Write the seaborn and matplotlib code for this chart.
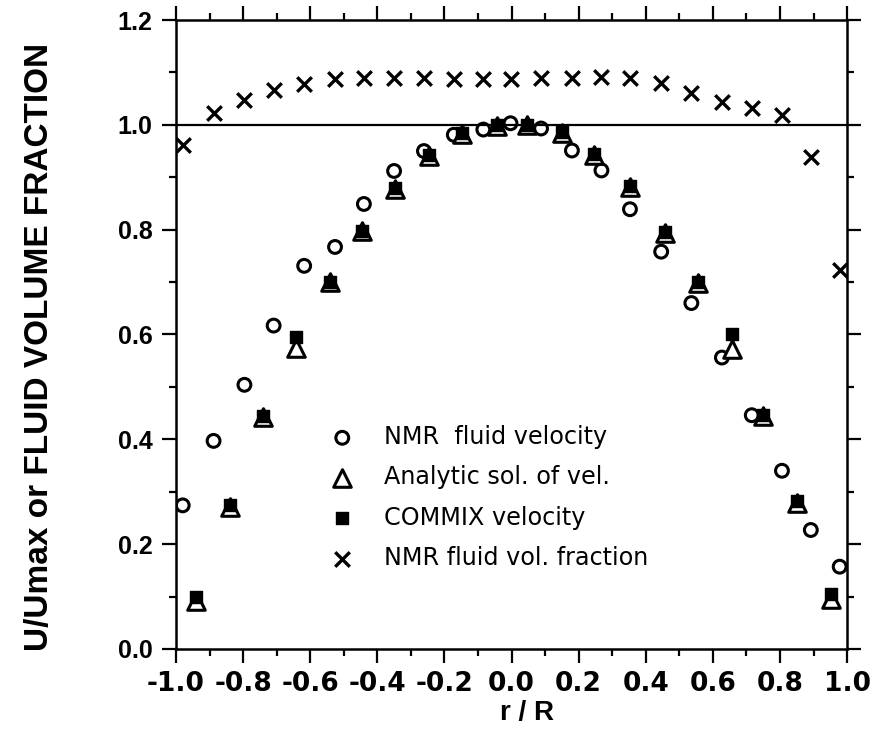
import matplotlib
matplotlib.use("Agg")
import matplotlib.pyplot as plt
import seaborn as sns

# radial positions of the NMR pixels (shared by velocity and volume fraction)
r_nmr = [-0.98, -0.888, -0.796, -0.709, -0.618, -0.526, -0.44, -0.35, -0.261,
         -0.172, -0.084, -0.003, 0.088, 0.18, 0.268, 0.353, 0.446, 0.536,
         0.627, 0.716, 0.806, 0.892, 0.978]
nmr_velocity = [0.274, 0.397, 0.504, 0.617, 0.731, 0.767, 0.849, 0.912, 0.95,
                0.981, 0.991, 1.003, 0.993, 0.951, 0.913, 0.839, 0.758, 0.66,
                0.556, 0.446, 0.34, 0.227, 0.157]
nmr_fraction = [0.962, 1.022, 1.048, 1.066, 1.077, 1.088, 1.089, 1.089, 1.089,
                1.088, 1.088, 1.088, 1.089, 1.09, 1.091, 1.09, 1.079, 1.06,
                1.043, 1.032, 1.019, 0.939, 0.723]

# radial positions of the computed profiles
r_model = [-0.94, -0.84, -0.74, -0.643, -0.54, -0.445, -0.347, -0.245, -0.149,
           -0.043, 0.046, 0.151, 0.247, 0.354, 0.457, 0.556, 0.658, 0.749,
           0.851, 0.951]
analytic = [0.092, 0.27, 0.442, 0.574, 0.7, 0.797, 0.878, 0.941, 0.982, 0.998,
            1.0, 0.984, 0.942, 0.881, 0.794, 0.698, 0.573, 0.445, 0.279, 0.096]
commix = [0.1, 0.275, 0.445, 0.596, 0.7, 0.797, 0.88, 0.943, 0.985, 1.0,
          1.0, 0.986, 0.944, 0.883, 0.796, 0.7, 0.6, 0.447, 0.283, 0.105]

x_ticks = [-1.0, -0.8, -0.6, -0.4, -0.2, 0.0, 0.2, 0.4, 0.6, 0.8, 1.0]
x_minor = [-0.9, -0.7, -0.5, -0.3, -0.1, 0.1, 0.3, 0.5, 0.7, 0.9]
y_ticks = [0.0, 0.2, 0.4, 0.6, 0.8, 1.0, 1.2]
y_minor = [0.1, 0.3, 0.5, 0.7, 0.9, 1.1]

sns.set_style("ticks")
plt.rcParams["font.family"] = ["DejaVu Sans"]
plt.rcParams["axes.linewidth"] = 1.8
for key in ["text.color", "axes.labelcolor", "xtick.color", "ytick.color",
            "axes.edgecolor"]:
    plt.rcParams[key] = "black"

fig = plt.figure(figsize=(8.83, 7.52), dpi=100)
ax = fig.add_axes([0.1993, 0.137, 0.76, 0.8364])

sns.scatterplot(x=r_nmr, y=nmr_velocity, ax=ax, marker="o", s=85, color="k",
                facecolor="none", edgecolor="k", linewidth=2.2,
                label="NMR  fluid velocity", zorder=3)
sns.scatterplot(x=r_model, y=analytic, ax=ax, marker="^", s=160, color="k",
                facecolor="white", edgecolor="k", linewidth=2.2,
                label="Analytic sol. of vel.", zorder=3)
sns.scatterplot(x=r_model, y=commix, ax=ax, marker="s", s=85, color="k",
                edgecolor="k", linewidth=1, label="COMMIX velocity", zorder=4)
sns.scatterplot(x=r_nmr, y=nmr_fraction, ax=ax, marker="x", s=110, color="k",
                linewidth=2.4, label="NMR fluid vol. fraction", zorder=3)

ax.axhline(1.0, color="k", lw=1.6, zorder=2)

ax.set_xlim(-1.0, 1.0)
ax.set_ylim(0.0, 1.2)
ax.set_xticks(x_ticks)
ax.set_xticks(x_minor, minor=True)
ax.set_yticks(y_ticks)
ax.set_yticks(y_minor, minor=True)
ax.set_xticklabels([f"{v:.1f}" for v in x_ticks], fontsize=19,
                   fontweight="bold", family="DejaVu Sans")
ax.set_yticklabels([f"{v:.1f}" for v in y_ticks], fontsize=18,
                   fontweight="bold", family="Liberation Sans")
ax.tick_params(which="major", direction="out", length=10, width=1.6,
               top=True, right=True, color="k")
ax.tick_params(which="minor", direction="out", length=5, width=1.6,
               top=True, right=True, color="k")
ax.tick_params(axis="x", which="major", pad=6)
ax.tick_params(axis="y", which="major", pad=7)
for sp in ax.spines.values():
    sp.set_visible(True)
    sp.set_color("k")

ax.set_ylabel("U/Umax or FLUID VOLUME FRACTION", fontsize=24,
              fontweight="bold", family="Liberation Sans")
ax.yaxis.set_label_coords(-0.18, 0.481)
ax.set_xlabel("r / R", fontsize=20, fontweight="bold",
              family="Liberation Sans")
ax.xaxis.set_label_coords(0.523, -0.081)

ax.legend(loc="upper left", bbox_to_anchor=(0.23, 0.356), frameon=False,
          borderpad=0, borderaxespad=0, handlelength=1.0, handletextpad=1.25,
          labelspacing=0.68, fontsize=17.2, scatterpoints=1)

fig.savefig("out.png", dpi=100)
